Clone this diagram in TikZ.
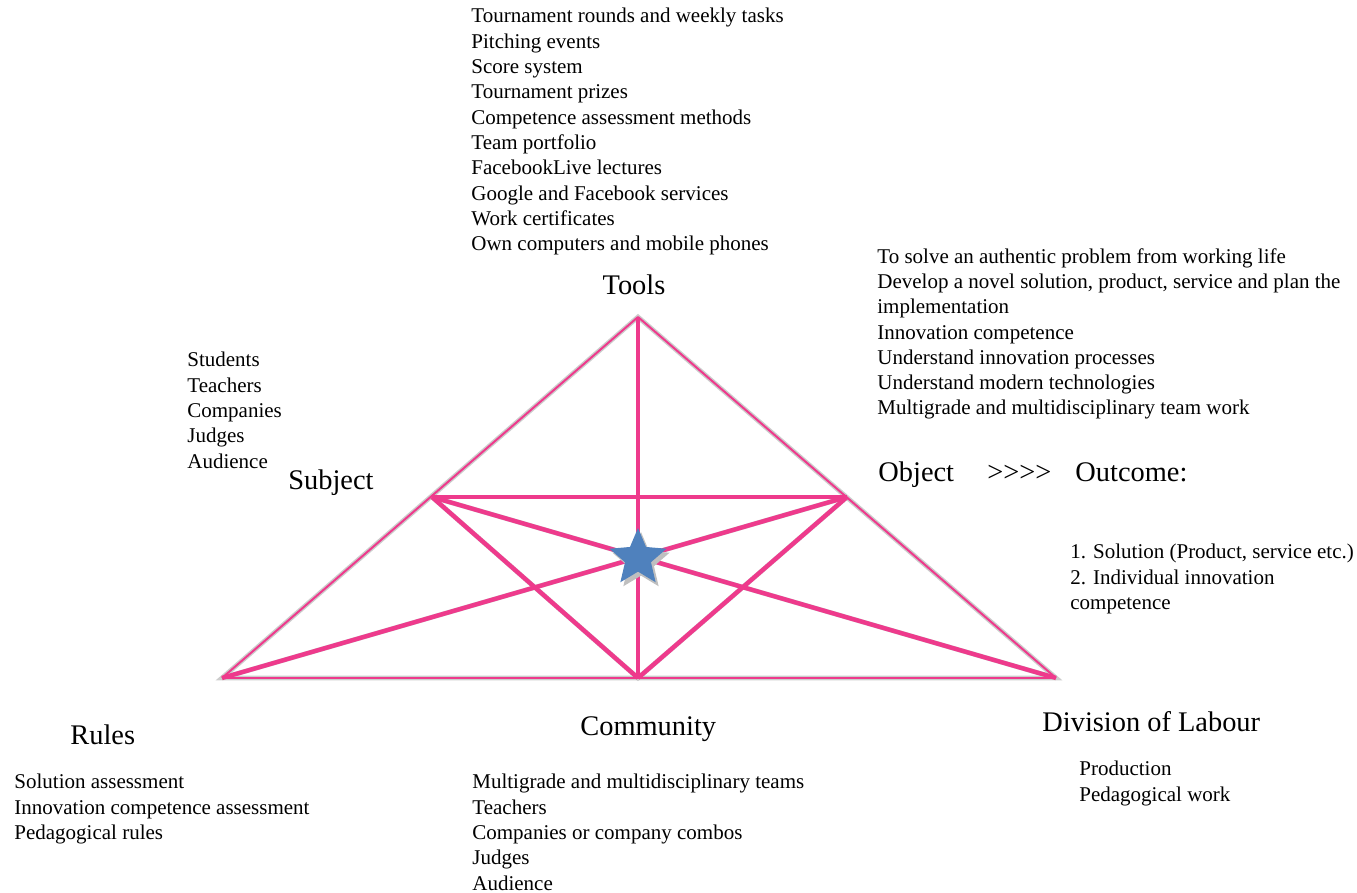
\documentclass[tikz,border=0pt]{standalone}
\usepackage{fontspec}
\setmainfont{Liberation Serif}
\usetikzlibrary{positioning, shapes.geometric}
\definecolor{linepink}{RGB}{238,58,140}
\definecolor{starblue}{RGB}{79,129,189}
\tikzset{
outerline/.style={draw=linepink, line width=1pt},
innerline/.style={draw=linepink, line width=2.2pt},
shadowline/.style={draw=black!20, line width=2.4pt, xshift=1pt, yshift=-1.5pt},
heading/.style={font=\fontsize{14.2}{17}\selectfont, inner sep=0pt},
itemlist/.style={font=\fontsize{10.5}{12.65}\selectfont, align=left, inner sep=0pt, anchor=north west},
starshape/.style={star, star points=5, star point ratio=2.2, minimum size=30pt, inner sep=0pt, draw=none},
}

\begin{document}
\begin{tikzpicture}[x=0.5pt, y=-0.5pt]
    \useasboundingbox (0,0) rectangle (1357,893);

    %corners of the triangle
    \coordinate (apex)    at (638,317);
    \coordinate (lcorner) at (222,678);
    \coordinate (rcorner) at (1056,678);
    \coordinate (bmid)    at (638,678);

    %corners on the sides
    \coordinate (subj) at (432,497);
    \coordinate (obj)  at (847,497);

    %shadows
    \draw[shadowline] (lcorner)--(apex)--(rcorner)--cycle;
    \draw[shadowline] (apex)--(bmid);
    \draw[shadowline] (subj)--(obj);
    \draw[shadowline] (subj)--(rcorner);
    \draw[shadowline] (obj)--(lcorner);
    \draw[shadowline] (subj)--(bmid)--(obj);

    %outer triangle
    \draw[outerline] (lcorner)--(apex);
    \draw[outerline] (apex)--(rcorner);
    \draw[outerline] (lcorner)--(rcorner);

    %inner lines
    \draw[innerline] (apex)--(bmid);
    \draw[innerline] (subj)--(obj);
    \draw[innerline] (subj)--(rcorner);
    \draw[innerline] (obj)--(lcorner);
    \draw[innerline] (subj)--(bmid);
    \draw[innerline] (obj)--(bmid);

    %star in the middle
    \node[starshape, fill=black!25] (starshade) at (641,562) {};
    \node[starshape, fill=starblue] (star) at (638,558) {};

    %headings
    \node[heading, anchor=base] (tools) at (634,295) {Tools};
    \node[heading, anchor=base west] (subject) at (288,490) {Subject};
    \node[heading, anchor=base west] (object) at (878,482) {Object};
    \node[heading, anchor=base west] (arrows) at (987,482) {>\kern0pt>\kern0pt>\kern0pt>};
    \node[heading, anchor=base west] (outcome) at (1075,482) {Outcome:};
    \node[heading, anchor=base west] (rules) at (70,745) {Rules};
    \node[heading, anchor=base west] (community) at (580,735) {Community};
    \node[heading, anchor=base west] (division) at (1042,732) {Division of Labour};

    %lists
    \node[itemlist] (toolslist) at (471,8) {Tournament rounds and weekly tasks\\
        Pitching events\\ Score system\\ Tournament prizes\\
        Competence assessment methods\\ Team portfolio\\ FacebookLive lectures\\
        Google and Facebook services\\ Work certificates\\
        Own computers and mobile phones};
    \node[itemlist] (subjectlist) at (187,352) {Students\\ Teachers\\ Companies\\ Judges\\ Audience};
    \node[itemlist] (objectlist) at (877,248) {To solve an authentic problem from working life\\
        Develop a novel solution, product, service and plan the\\ implementation\\
        Innovation competence\\ Understand innovation processes\\
        Understand modern technologies\\ Multigrade and multidisciplinary team work};
    \node[itemlist] (outcomelist) at (1070,544) {1. Solution (Product, service etc.)\\
        2. Individual innovation\\ competence};
    \node[itemlist] (ruleslist) at (14,774) {Solution assessment\\
        Innovation competence assessment\\ Pedagogical rules};
    \node[itemlist] (communitylist) at (472,774) {Multigrade and multidisciplinary teams\\
        Teachers\\ Companies or company combos\\ Judges\\ Audience};
    \node[itemlist] (divisionlist) at (1079,761) {Production\\ Pedagogical work};

\end{tikzpicture}
\end{document}
